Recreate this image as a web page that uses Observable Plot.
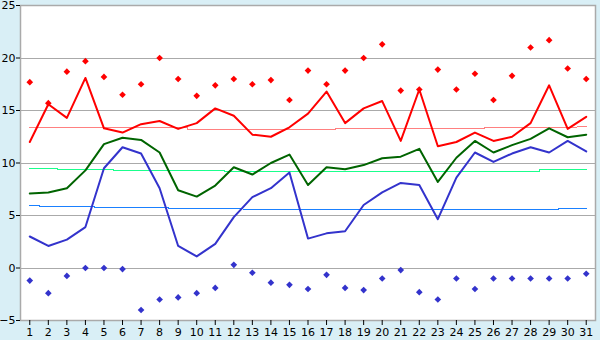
<!DOCTYPE html>
<html><head><meta charset="utf-8">
<script src="https://cdn.jsdelivr.net/npm/d3@7"></script>
<script src="https://cdn.jsdelivr.net/npm/@observablehq/plot@0.6"></script>
<style>body{margin:0;background:#d9eff6;}</style>
</head><body><div id="chart"></div>
<script>
const days = d3.range(1, 32);
const maxT = [12.0,15.6,14.3,18.1,13.3,12.9,13.7,14.0,13.25,13.8,15.2,14.5,12.7,12.5,13.4,14.7,16.8,13.8,15.2,15.9,12.1,17.0,11.6,12.0,12.9,12.1,12.5,13.8,17.4,13.25,14.4];
const meanT = [7.1,7.2,7.6,9.3,11.8,12.4,12.2,11.0,7.4,6.8,7.85,9.6,8.9,10.0,10.8,7.9,9.6,9.4,9.8,10.45,10.6,11.35,8.2,10.5,12.1,11.0,11.7,12.3,13.3,12.45,12.7];
const minT = [3.0,2.1,2.7,3.9,9.5,11.5,10.9,7.6,2.1,1.1,2.3,4.85,6.75,7.6,9.1,2.8,3.3,3.5,6.0,7.2,8.1,7.9,4.65,8.6,11.0,10.1,10.9,11.5,11.0,12.1,11.1];
const recMax = [17.7,15.7,18.7,19.7,18.2,16.5,17.5,20.0,18.0,16.4,17.4,18.0,17.5,17.9,16.0,18.8,17.5,18.8,20.0,21.3,16.9,17.0,18.9,17.0,18.5,16.0,18.3,21.0,21.7,19.0,18.0];
const recMin = [-1.2,-2.4,-0.75,0,0,-0.1,-4.0,-3.0,-2.8,-2.4,-1.9,0.3,-0.45,-1.4,-1.6,-2.0,-0.65,-1.9,-2.1,-1.0,-0.2,-2.3,-3.0,-1.0,-2.0,-1.0,-1.0,-1.0,-1.0,-1.0,-0.55];
const normMax = [13.35,13.35,13.35,13.35,13.35,13.35,13.35,13.35,13.35,13.15,13.15,13.15,13.15,13.15,13.15,13.15,13.15,13.25,13.25,13.25,13.25,13.25,13.25,13.25,13.25,13.35,13.35,13.35,13.35,13.35,13.45];
const normMean = [9.45,9.45,9.35,9.35,9.35,9.28,9.28,9.28,9.28,9.28,9.28,9.22,9.22,9.22,9.22,9.22,9.22,9.22,9.22,9.22,9.22,9.22,9.22,9.22,9.22,9.22,9.22,9.22,9.35,9.35,9.35];
const normMin = [5.95,5.85,5.85,5.85,5.73,5.73,5.73,5.73,5.63,5.63,5.63,5.63,5.57,5.57,5.57,5.57,5.57,5.57,5.57,5.57,5.57,5.57,5.57,5.57,5.57,5.57,5.57,5.57,5.57,5.65,5.65];
const yTicks = [-5, 0, 5, 10, 15, 20, 25];
const gridY = [0, 5, 10, 15, 20];

const rows = (arr) => days.map((d, i) => ({day: d, v: arr[i]}));

const chart = Plot.plot({
  width: 600, height: 340,
  marginLeft: 20, marginRight: 5, marginTop: 5, marginBottom: 20,
  style: {background: "#d9eff6", fontFamily: "DejaVu Sans", fontSize: "10px", color: "black"},
  x: {domain: [0.5, 31.5], label: null},
  y: {domain: [-5, 25], label: null},
  marks: [
    Plot.frame({fill: "white", stroke: "none"}),
    Plot.ruleY(gridY, {stroke: "#aaaaaa", strokeWidth: 1, shapeRendering: "crispEdges"}),
    Plot.frame({stroke: "#aaaaaa", strokeWidth: 1.5}),
    Plot.axisY(yTicks, {tickSize: 4, tickPadding: 1, tickFormat: d => d < 0 ? "\u2212" + (-d) : String(d), fontSize: 11}),
    Plot.axisX(days, {tickSize: 5, tickPadding: 3, tickFormat: d => String(d), fontSize: 11}),
    Plot.line(rows(normMax), {x: "day", y: "v", stroke: "#ff8080", strokeWidth: 1, curve: "step", shapeRendering: "crispEdges"}),
    Plot.line(rows(normMean), {x: "day", y: "v", stroke: "#1aff8c", strokeWidth: 1, curve: "step", shapeRendering: "crispEdges"}),
    Plot.line(rows(normMin), {x: "day", y: "v", stroke: "#1a80ff", strokeWidth: 1, curve: "step", shapeRendering: "crispEdges"}),
    Plot.line(rows(maxT), {x: "day", y: "v", stroke: "#ff0000", strokeWidth: 2}),
    Plot.line(rows(meanT), {x: "day", y: "v", stroke: "#006400", strokeWidth: 2}),
    Plot.line(rows(minT), {x: "day", y: "v", stroke: "#3333cc", strokeWidth: 2}),
    Plot.dot(rows(recMax), {x: "day", y: "v", symbol: "diamond2", r: 3, fill: "#ff0000", stroke: "none"}),
    Plot.dot(rows(recMin), {x: "day", y: "v", symbol: "diamond2", r: 3, fill: "#3333cc", stroke: "none"})
  ]
});
document.getElementById("chart").appendChild(chart);
</script>
</body></html>
